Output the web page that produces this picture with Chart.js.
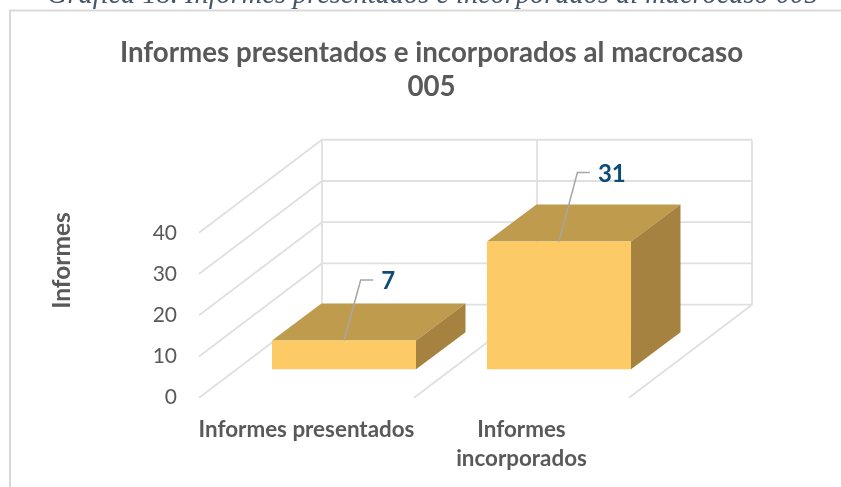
<!DOCTYPE html>
<html><head><meta charset="utf-8">
<script src="https://cdn.jsdelivr.net/npm/chart.js@4"></script>
<style>html,body{margin:0;padding:0;background:#fff;overflow:hidden}canvas{display:block}</style>
</head><body><canvas id="c" width="841" height="487"></canvas>
<script>
const categories = [["Informes presentados"], ["Informes", "incorporados"]];
const informes = [7, 31];
const yTicks = [0, 10, 20, 30, 40];
const chartTitle = ["Informes presentados e incorporados al macrocaso", "005"];
const yTitle = "Informes";
const caption = "Gráfica 18. Informes presentados e incorporados al macrocaso 005";
const FONT = "Lato";

const view = { wallDx: 123, wallDy: 93, frontDx: 37.5, frontDy: 28.4, barDx: 49.5, barDy: 37 };
const leaders = [{ dx: 16.7, dy: 60.4, run: 12.5 }, { dx: 18.4, dy: 69, run: 12.5 }];

const box3d = {
  id: "box3d",
  beforeDraw(chart) {
    const c = chart.ctx;
    c.save();
    c.fillStyle = "#fff"; c.fillRect(0, 0, 841, 487);
    c.font = "italic 28.4px 'Liberation Serif'"; c.fillStyle = "#44546a";
    c.textAlign = "left"; c.textBaseline = "alphabetic";
    c.fillText(caption, 47, 3);
    c.strokeStyle = "#d9d9d9"; c.lineWidth = 2;
    c.beginPath(); c.moveTo(10, 487); c.lineTo(10, 10.5); c.lineTo(841, 10.5); c.stroke();
    c.translate(62, 260.5); c.rotate(-Math.PI / 2);
    c.font = "bold 24.5px " + FONT; c.fillStyle = "#595959";
    c.textAlign = "center"; c.textBaseline = "middle";
    c.fillText(yTitle, 0, 0);
    c.restore();
  },
  beforeDatasetsDraw(chart) {
    const c = chart.ctx, { x, y } = chart.scales, v = view;
    const b = y.getPixelForValue(0), t = y.getPixelForValue(yTicks[yTicks.length - 1]);
    c.save();
    c.strokeStyle = "#e0e0e0"; c.lineWidth = 1.8;
    c.beginPath();
    yTicks.forEach(val => {
      const p = y.getPixelForValue(val);
      c.moveTo(x.left, p); c.lineTo(x.left + v.wallDx, p - v.wallDy); c.lineTo(x.right + v.wallDx, p - v.wallDy);
    });
    for (let i = 0; i <= categories.length; i++) {
      const px = x.left + (x.right - x.left) * i / categories.length;
      c.moveTo(px, b); c.lineTo(px + v.wallDx, b - v.wallDy); c.lineTo(px + v.wallDx, t - v.wallDy);
    }
    c.stroke();
    chart.getDatasetMeta(0).data.forEach(bar => {
      const l = bar.x - bar.width / 2 + v.frontDx, r = bar.x + bar.width / 2 + v.frontDx;
      const top = bar.y - v.frontDy, bot = bar.base - v.frontDy;
      c.fillStyle = "#bf9b4e";
      c.beginPath(); c.moveTo(l, top); c.lineTo(l + v.barDx, top - v.barDy); c.lineTo(r + v.barDx, top - v.barDy); c.lineTo(r, top); c.closePath(); c.fill();
      c.fillStyle = "#a58240";
      c.beginPath(); c.moveTo(r, top); c.lineTo(r + v.barDx, top - v.barDy); c.lineTo(r + v.barDx, bot - v.barDy); c.lineTo(r, bot); c.closePath(); c.fill();
    });
    c.restore();
    c.save();
    c.translate(v.frontDx, -v.frontDy);
  },
  afterDatasetsDraw(chart) {
    const c = chart.ctx, v = view;
    c.restore();
    c.save();
    chart.getDatasetMeta(0).data.forEach((bar, i) => {
      const sx = bar.x + v.frontDx, sy = bar.y - v.frontDy, L = leaders[i];
      c.strokeStyle = "#a6a6a6"; c.lineWidth = 1.5;
      c.beginPath(); c.moveTo(sx, sy); c.lineTo(sx + L.dx, sy - L.dy); c.lineTo(sx + L.dx + L.run, sy - L.dy); c.stroke();
      c.font = "bold 24px " + FONT; c.fillStyle = "#0f4c75";
      c.textAlign = "left"; c.textBaseline = "middle";
      c.fillText(String(informes[i]), sx + L.dx + L.run + 8, sy - L.dy + 1.5);
    });
    c.restore();
  }
};

new Chart(document.getElementById("c"), {
  type: "bar",
  data: { labels: categories, datasets: [{ data: informes, backgroundColor: "#fdcb66", barPercentage: 0.67, categoryPercentage: 1, clip: false }] },
  plugins: [box3d],
  options: {
    responsive: false, animation: false,
    layout: { autoPadding: false, padding: { left: 22, right: 0, top: 0, bottom: 0 } },
    plugins: {
      legend: { display: false }, tooltip: { enabled: false },
      title: { display: true, text: chartTitle, color: "#595959", font: { family: FONT, size: 27.7, weight: "bold", lineHeight: 1.23 }, padding: { top: 36, bottom: 128.6 } }
    },
    scales: {
      x: { grid: { display: false }, border: { display: false },
        ticks: { autoSkip: false, maxRotation: 0, minRotation: 0, padding: 10, color: "#595959", font: { family: FONT, size: 22.4, weight: "bold", lineHeight: 1.29 } },
        afterFit(s) { s.height = 89.3; } },
      y: { min: 0, max: 40, grid: { display: false }, border: { display: false },
        ticks: { stepSize: 10, padding: 14, color: "#595959", font: { family: FONT, size: 21 } },
        afterFit(s) { s.width = 177; } },
      y2: { position: "right", grid: { display: false }, border: { display: false }, ticks: { display: false },
        afterFit(s) { s.width = 212; } }
    }
  }
});
</script></body></html>
